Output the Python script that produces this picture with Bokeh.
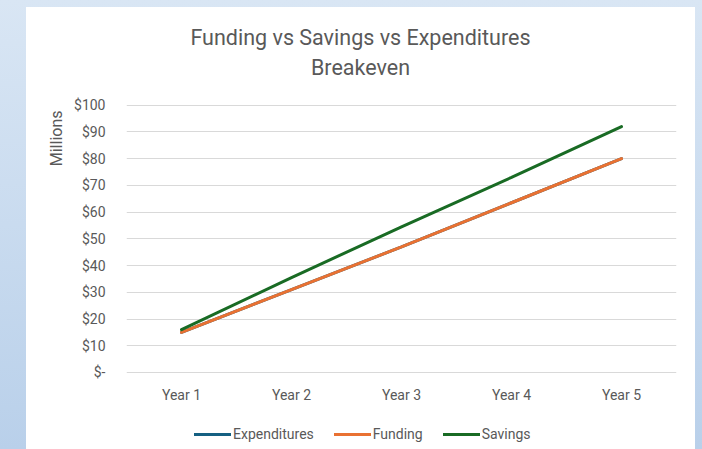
from bokeh.plotting import figure
from bokeh.models import (FactorRange, Range1d, Title, Legend, LegendItem,
                          FixedTicker, GlobalInlineStyleSheet)
from bokeh.core.properties import value
from bokeh.embed import file_html
from bokeh.resources import INLINE

years = ["Year 1", "Year 2", "Year 3", "Year 4", "Year 5"]
expenditures = [15, 31, 47, 63.5, 80]
funding = [15, 31, 47, 63.5, 80]
savings = [16, 35.5, 54.5, 73, 92]
y_ticks = [0, 10, 20, 30, 40, 50, 60, 70, 80, 90, 100]
y_tick_labels = ["$-", "$10", "$20", "$30", "$40", "$50", "$60", "$70", "$80", "$90", "$100"]
title_lines = ["Funding vs Savings vs Expenditures", "Breakeven"]

FONT = "Roboto"
TXT = "#595959"

# frame covers the whole white panel; value axis 0..100 occupies the middle band
p = figure(x_range=FactorRange(*years, range_padding=0), y_range=Range1d(-28.81, 136.55),
           frame_width=550, frame_height=442,
           min_border_left=100, min_border_right=19, min_border_top=0, min_border_bottom=0,
           output_backend="svg", toolbar_location=None,
           background_fill_color=None, border_fill_color="white",
           outline_line_color=None, styles={"background-color": "white"})

p.stylesheets = [GlobalInlineStyleSheet(css="""
html { min-height: 100%; background: linear-gradient(to bottom, #d9e6f4, #b9d0ea); }
body { margin: 0; padding: 7px 0 0 26px; background: transparent; overflow: hidden; }
""")]

# chart title (two centred lines over the white panel)
p.text(x=["Year 3", "Year 3"], y=[125.3, 114.2], text=title_lines, x_offset=-41,
       text_align="center", text_baseline="middle", text_font=value(FONT),
       text_font_size="21.5px", text_color=TXT)

r_exp = p.line(years, expenditures, line_color="#156082", line_width=3, line_cap="round")
r_fun = p.line(years, funding, line_color="#E97132", line_width=3, line_cap="round")
r_sav = p.line(years, savings, line_color="#196B24", line_width=3, line_cap="round")

p.xgrid.grid_line_color = None
p.ygrid.grid_line_color = "#d9d9d9"
p.ygrid.grid_line_width = 1
p.ygrid.ticker = FixedTicker(ticks=y_ticks)

p.yaxis.ticker = FixedTicker(ticks=y_ticks)
p.yaxis.major_label_overrides = {t: l for t, l in zip(y_ticks, y_tick_labels)}
p.yaxis.axis_line_color = None
p.yaxis.major_tick_line_color = None
p.yaxis.minor_tick_line_color = None
p.yaxis.major_label_standoff = 15
p.yaxis.major_label_text_font = FONT
p.yaxis.major_label_text_font_size = "14px"
p.yaxis.major_label_text_color = TXT

# category labels drawn under the zero line
p.xaxis.visible = False
p.text(x=years, y=[-8.4] * len(years), text=years, text_align="center",
       text_baseline="middle", text_font=value(FONT), text_font_size="14px",
       text_color=TXT)

p.add_layout(Title(text="Millions", align="right", offset=103, text_font=FONT,
                   text_font_size="16px", text_color=TXT, text_font_style="normal",
                   standoff=12), "left")

legend = Legend(items=[LegendItem(label="Expenditures", renderers=[r_exp]),
                       LegendItem(label="Funding", renderers=[r_fun]),
                       LegendItem(label="Savings", renderers=[r_sav])],
                orientation="horizontal", location=(68, 7),
                glyph_width=37, glyph_height=16, label_height=16, label_standoff=2,
                spacing=20, padding=0, margin=0, border_line_color=None,
                background_fill_alpha=0, label_text_font=FONT,
                label_text_font_size="14px", label_text_color=TXT)
p.add_layout(legend)

open("out.html", "w").write(file_html(p, INLINE))
